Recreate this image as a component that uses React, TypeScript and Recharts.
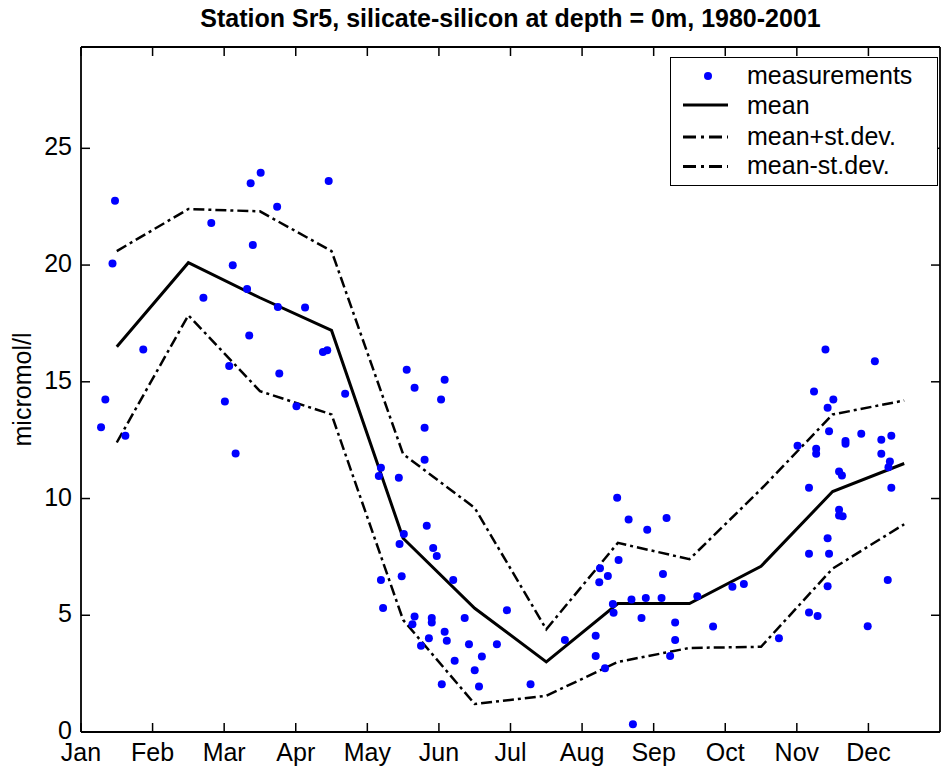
import React from 'react';
import { ComposedChart, Line, Scatter, XAxis, YAxis, Legend } from 'recharts';

const FONT = '"Liberation Sans", Arial, Helvetica, sans-serif';

const monthLabels = ['Jan', 'Feb', 'Mar', 'Apr', 'May', 'Jun', 'Jul', 'Aug', 'Sep', 'Oct', 'Nov', 'Dec'];
const monthTicks = [1, 2, 3, 4, 5, 6, 7, 8, 9, 10, 11, 12];
const monthCenters = [1.5, 2.5, 3.5, 4.5, 5.5, 6.5, 7.5, 8.5, 9.5, 10.5, 11.5, 12.5];
const yTicks = [0, 5, 10, 15, 20, 25];

const meanValues = [16.5, 20.1, 18.6, 17.2, 8.3, 5.3, 3.0, 5.5, 5.5, 7.1, 10.3, 11.5];
const plusSdValues = [20.6, 22.4, 22.3, 20.6, 11.9, 9.6, 4.4, 8.1, 7.4, 10.4, 13.6, 14.2];
const minusSdValues = [12.4, 17.85, 14.6, 13.6, 4.8, 1.2, 1.55, 3.0, 3.6, 3.65, 7.0, 8.9];

const measX = [
  1.28, 1.34, 1.44, 1.475, 1.62, 1.87,
  2.71, 2.82, 3.01, 3.07, 3.12, 3.16, 3.32, 3.35, 3.37, 3.40, 3.51, 3.74, 3.75, 3.77,
  4.01, 4.13, 4.38, 4.44, 4.46, 4.69,
  5.16, 5.19, 5.19, 5.22, 5.44, 5.45, 5.48, 5.51, 5.55, 5.63, 5.66, 5.66, 5.75, 5.80,
  5.80, 5.83, 5.86, 5.90, 5.90, 5.92, 5.97, 6.03, 6.04, 6.08, 6.08, 6.11, 6.20, 6.22,
  6.36, 6.42, 6.50, 6.56, 6.60, 6.81, 6.95, 7.28, 7.76,
  8.19, 8.19, 8.24, 8.25, 8.32, 8.36, 8.43, 8.44, 8.49, 8.51, 8.65, 8.69, 8.71, 8.83,
  8.89, 8.91, 9.11, 9.13, 9.18, 9.23, 9.30, 9.30, 9.61, 9.83,
  10.10, 10.26, 10.75,
  11.01, 11.17, 11.17, 11.17, 11.24, 11.27, 11.27, 11.29, 11.40, 11.43, 11.43, 11.43,
  11.45, 11.45, 11.51, 11.59, 11.59, 11.59, 11.63, 11.64, 11.68, 11.68, 11.90, 11.99,
  12.09, 12.18, 12.18, 12.27, 12.28, 12.30, 12.32, 12.32,
];
const measY = [
  13.05, 14.24, 20.07, 22.75, 12.69, 16.38,
  18.6, 21.8, 14.16, 15.68, 19.99, 11.93, 18.97, 16.98, 23.5, 20.86, 23.95, 22.5, 18.2, 15.35,
  13.95, 18.18, 16.28, 16.35, 23.6, 14.49,
  10.96, 11.32, 6.51, 5.31, 10.89, 8.05, 6.67, 8.48, 15.52, 4.62, 14.75, 4.95, 3.69, 13.03,
  11.66, 8.83, 4.02, 4.88, 4.69, 7.88, 7.54, 14.24, 2.05, 15.09, 4.29, 3.91, 6.51, 3.05,
  4.88, 3.76, 2.65, 1.95, 3.23, 3.76, 5.22, 2.05, 3.94,
  4.12, 3.25, 6.41, 7.01, 2.73, 6.68, 5.48, 5.11, 10.03, 7.37, 9.10, 5.67, 0.33, 4.88,
  5.74, 8.66, 5.74, 6.77, 9.17, 3.25, 4.69, 3.94, 5.81, 4.52,
  6.22, 6.34, 4.02,
  12.26, 10.46, 7.63, 5.12, 14.58, 12.13, 11.92, 4.97, 16.38, 13.89, 8.30, 6.24,
  12.88, 7.63, 14.24, 11.16, 9.52, 9.27, 10.99, 9.24, 12.46, 12.35, 12.78, 4.53,
  15.88, 12.52, 11.92, 6.51, 11.34, 11.59, 12.69, 10.46,
];

const monthly = monthCenters.map((x, i) => ({
  x,
  mean: meanValues[i],
  plus: plusSdValues[i],
  minus: minusSdValues[i],
}));
const measurements = measX.map((x, i) => ({ x, y: measY[i] }));

const TICK_LEN = 9;
const DASH = '11 4 3 4';

const BottomTick = (props: any) => {
  const { x, y, payload } = props;
  return (
    <g>
      <line x1={x} y1={y} x2={x} y2={y - TICK_LEN} stroke="#000" strokeWidth={1.5} />
      <text x={x} y={y + 29} textAnchor="middle" fontSize={25} fontFamily={FONT} fill="#000">
        {monthLabels[payload.value - 1]}
      </text>
    </g>
  );
};

const TopTick = (props: any) => {
  const { x, y } = props;
  return <line x1={x} y1={y} x2={x} y2={y + TICK_LEN} stroke="#000" strokeWidth={1.5} />;
};

const LeftTick = (props: any) => {
  const { x, y, payload } = props;
  return (
    <g>
      <line x1={x} y1={y} x2={x + TICK_LEN} y2={y} stroke="#000" strokeWidth={1.5} />
      <text x={x - 9} y={y + 7} textAnchor="end" fontSize={25} fontFamily={FONT} fill="#000">
        {payload.value}
      </text>
    </g>
  );
};

const RightTick = (props: any) => {
  const { x, y } = props;
  return <line x1={x} y1={y} x2={x - TICK_LEN} y2={y} stroke="#000" strokeWidth={1.5} />;
};

const YLabel = (props: any) => {
  const vb = props.viewBox || { x: 0, y: 47, width: 81, height: 685 };
  const cx = vb.x + 22;
  const cy = vb.y + vb.height / 2;
  return (
    <text
      x={cx}
      y={cy}
      transform={`rotate(-90 ${cx} ${cy})`}
      textAnchor="middle"
      dominantBaseline="central"
      fontSize={25}
      fontFamily={FONT}
      fill="#000"
    >
      micromol/l
    </text>
  );
};

const legendRows = [
  { label: 'measurements', kind: 'dot', iconY: 19, textY: 26.5 },
  { label: 'mean', kind: 'solid', iconY: 48, textY: 56.5 },
  { label: 'mean+st.dev.', kind: 'dash', iconY: 80, textY: 87.5 },
  { label: 'mean-st.dev.', kind: 'dash', iconY: 109.5, textY: 117 },
];

const renderLegend = () => (
  <div
    style={{
      width: 268,
      height: 129,
      border: '1.5px solid #000',
      boxSizing: 'border-box',
      background: '#fff',
      position: 'relative',
    }}
  >
    <svg width={268} height={129} style={{ position: 'absolute', left: -1.5, top: -1.5 }}>
      {legendRows.map((r) => (
        <g key={r.label}>
          {r.kind === 'dot' && <circle cx={38} cy={r.iconY} r={4} fill="#0000ff" />}
          {r.kind === 'solid' && (
            <line x1={13} y1={r.iconY} x2={58} y2={r.iconY} stroke="#000" strokeWidth={3} />
          )}
          {r.kind === 'dash' && (
            <line
              x1={13}
              y1={r.iconY}
              x2={58}
              y2={r.iconY}
              stroke="#000"
              strokeWidth={3}
              strokeDasharray="13 5 3 5"
            />
          )}
          <text x={77} y={r.textY} fontSize={25} fontFamily={FONT} fill="#000">
            {r.label}
          </text>
        </g>
      ))}
    </svg>
  </div>
);

const axisLineStyle = { stroke: '#000', strokeWidth: 1.8 };

export default function App() {
  return (
    <div
      style={{
        position: 'absolute',
        left: 0,
        top: 0,
        width: 952,
        height: 771,
        background: '#fff',
        fontFamily: FONT,
      }}
    >
      <div
        style={{
          position: 'absolute',
          left: 81,
          width: 859,
          top: 6,
          textAlign: 'center',
          fontWeight: 'bold',
          fontSize: 25,
          lineHeight: '25px',
          color: '#000',
          fontFamily: FONT,
          zIndex: 2,
          whiteSpace: 'nowrap',
        }}
      >
        Station Sr5, silicate-silicon at depth = 0m, 1980-2001
      </div>
      <ComposedChart
        width={952}
        height={771}
        data={monthly}
        margin={{ top: 46, right: 11, bottom: 0, left: 0 }}
      >
        <XAxis
          xAxisId="b"
          dataKey="x"
          type="number"
          domain={[1, 13]}
          ticks={monthTicks}
          interval={0}
          orientation="bottom"
          height={39}
          tickSize={0}
          tickMargin={0}
          tickLine={false}
          axisLine={axisLineStyle}
          tick={BottomTick}
          allowDataOverflow
        />
        <XAxis
          xAxisId="t"
          dataKey="x"
          type="number"
          domain={[1, 13]}
          ticks={monthTicks}
          interval={0}
          orientation="top"
          height={1}
          tickSize={0}
          tickMargin={0}
          tickLine={false}
          axisLine={axisLineStyle}
          tick={TopTick}
          allowDataOverflow
        />
        <YAxis
          yAxisId="l"
          type="number"
          domain={[0, 29.34]}
          ticks={yTicks}
          interval={0}
          orientation="left"
          width={81}
          tickSize={0}
          tickMargin={0}
          tickLine={false}
          axisLine={axisLineStyle}
          tick={LeftTick}
          allowDataOverflow
          label={{ content: YLabel }}
        />
        <YAxis
          yAxisId="r"
          type="number"
          domain={[0, 29.34]}
          ticks={yTicks}
          interval={0}
          orientation="right"
          width={1}
          tickSize={0}
          tickMargin={0}
          tickLine={false}
          axisLine={axisLineStyle}
          tick={RightTick}
          allowDataOverflow
        />
        <Scatter
          xAxisId="b"
          yAxisId="l"
          data={measurements}
          dataKey="y"
          fill="#0000ff"
          isAnimationActive={false}
          shape={(p: any) => <circle cx={p.cx} cy={p.cy} r={4} fill="#0000ff" />}
        />
        <Line
          xAxisId="t"
          yAxisId="r"
          type="linear"
          dataKey="mean"
          stroke="#000"
          strokeWidth={3}
          dot={false}
          activeDot={false}
          isAnimationActive={false}
        />
        <Line
          xAxisId="b"
          yAxisId="l"
          type="linear"
          dataKey="plus"
          stroke="#000"
          strokeWidth={2.5}
          strokeDasharray={DASH}
          dot={false}
          activeDot={false}
          isAnimationActive={false}
        />
        <Line
          xAxisId="b"
          yAxisId="l"
          type="linear"
          dataKey="minus"
          stroke="#000"
          strokeWidth={2.5}
          strokeDasharray={DASH}
          dot={false}
          activeDot={false}
          isAnimationActive={false}
        />
        <Legend
          layout="horizontal"
          verticalAlign="middle"
          align="center"
          content={renderLegend}
          wrapperStyle={{ position: 'absolute', left: 670, top: 57, width: 268, height: 129 }}
        />
      </ComposedChart>
    </div>
  );
}
